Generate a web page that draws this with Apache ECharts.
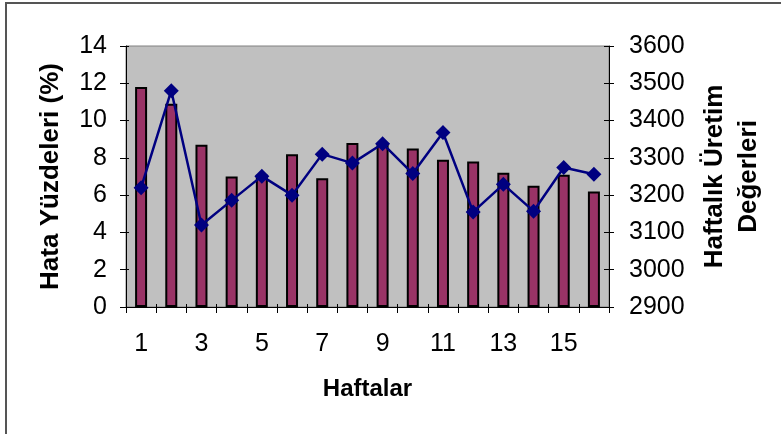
<!DOCTYPE html>
<html>
<head>
<meta charset="utf-8">
<script src="https://cdn.jsdelivr.net/npm/echarts@6/dist/echarts.min.js"></script>
<style>
  html, body { margin: 0; padding: 0; background: #fff; }
  #wrap { position: relative; width: 781px; height: 434px; }
  #chart { position: absolute; left: 0; top: 0; width: 781px; height: 434px; }
  #frame {
    position: absolute; left: 5px; top: 2px; right: 0; bottom: 0;
    border-top: 2px solid #555; border-left: 2px solid #555;
    pointer-events: none;
  }
</style>
</head>
<body>
<div id="wrap">
  <div id="chart"></div>
  <div id="frame"></div>
</div>
<script>
// weeks 1..16
const weeks = ['1', '2', '3', '4', '5', '6', '7', '8', '9', '10', '11', '12', '13', '14', '15', '16'];
// error percentage (left axis, bars)
const errorPct = [11.8, 10.9, 8.7, 7.0, 7.1, 8.2, 6.9, 8.8, 8.8, 8.5, 7.9, 7.8, 7.2, 6.5, 7.1, 6.2];
// weekly production (right axis, line)
const production = [3220, 3480, 3120, 3186, 3251, 3200, 3310, 3286, 3338, 3258, 3368, 3155, 3229, 3157, 3274, 3256];

const leftTicks = { min: 0, max: 14, interval: 2 };
const rightTicks = { min: 2900, max: 3600, interval: 100 };

const FONT = 'Liberation Sans';
const chart = echarts.init(document.getElementById('chart'));

const tickStyle = { color: '#000', width: 1 };

chart.setOption({
  animation: false,
  grid: {
    left: 126, right: 172, top: 46, bottom: 127,
    show: true,
    backgroundColor: '#c0c0c0',
    borderColor: '#808080',
    borderWidth: 1
  },
  xAxis: [
    {
      type: 'category',
      data: weeks,
      boundaryGap: true,
      name: 'Haftalar',
      nameLocation: 'middle',
      nameGap: 70,
      nameTextStyle: { fontFamily: FONT, fontSize: 24, fontWeight: 'bold', color: '#000' },
      axisLine: { show: true, lineStyle: { color: '#000', width: 1 } },
      axisTick: { show: true, interval: 0, alignWithLabel: false, length: 6, lineStyle: tickStyle },
      axisLabel: { interval: 1, margin: 25, color: '#000', fontFamily: FONT, fontSize: 25 },
      splitLine: { show: false }
    },
    {
      // inner half of the crossing ticks
      type: 'category',
      data: weeks,
      position: 'bottom',
      boundaryGap: true,
      axisLine: { show: false },
      axisTick: { show: true, inside: true, interval: 0, length: 3, lineStyle: tickStyle },
      axisLabel: { show: false },
      splitLine: { show: false }
    }
  ],
  yAxis: [
    {
      type: 'value',
      position: 'left',
      ...leftTicks,
      name: 'Hata Yüzdeleri (%)',
      nameLocation: 'middle',
      nameRotate: 90,
      nameGap: 62,
      nameTextStyle: { fontFamily: FONT, fontSize: 26, fontWeight: 'bold', color: '#000' },
      axisLine: { show: true, lineStyle: { color: '#000', width: 1 } },
      axisTick: { show: true, length: 6, lineStyle: tickStyle },
      axisLabel: { margin: 19, color: '#000', fontFamily: FONT, fontSize: 25 },
      splitLine: { show: false }
    },
    {
      type: 'value',
      position: 'right',
      ...rightTicks,
      name: 'Haftalık Üretim\nDeğerleri',
      nameLocation: 'middle',
      nameRotate: 90,
      nameGap: 89,
      nameTextStyle: { fontFamily: FONT, fontSize: 26, fontWeight: 'bold', color: '#000', lineHeight: 34 },
      axisLine: { show: true, lineStyle: { color: '#000', width: 1 } },
      axisTick: { show: true, length: 5, lineStyle: tickStyle },
      axisLabel: {
        margin: 20, color: '#000', fontFamily: FONT, fontSize: 25,
        formatter: v => String(v)
      },
      splitLine: { show: false }
    },
    {
      type: 'value',
      position: 'left',
      ...leftTicks,
      axisLine: { show: false },
      axisTick: { show: true, inside: true, length: 3, lineStyle: tickStyle },
      axisLabel: { show: false },
      splitLine: { show: false }
    },
    {
      type: 'value',
      position: 'right',
      ...rightTicks,
      axisLine: { show: false },
      axisTick: { show: true, inside: true, length: 5, lineStyle: tickStyle },
      axisLabel: { show: false },
      splitLine: { show: false }
    }
  ],
  series: [
    {
      name: 'Hata Yüzdeleri',
      type: 'bar',
      xAxisIndex: 0,
      yAxisIndex: 0,
      data: errorPct,
      barWidth: 12,
      itemStyle: { color: '#993366', borderColor: '#000', borderWidth: 2 },
      z: 2
    },
    {
      name: 'Haftalık Üretim',
      type: 'line',
      xAxisIndex: 0,
      yAxisIndex: 1,
      data: production,
      symbol: 'diamond',
      symbolSize: 15,
      showSymbol: true,
      lineStyle: { color: '#000080', width: 2.5 },
      itemStyle: { color: '#000080', borderWidth: 0 },
      z: 3
    }
  ]
});
</script>
</body>
</html>
